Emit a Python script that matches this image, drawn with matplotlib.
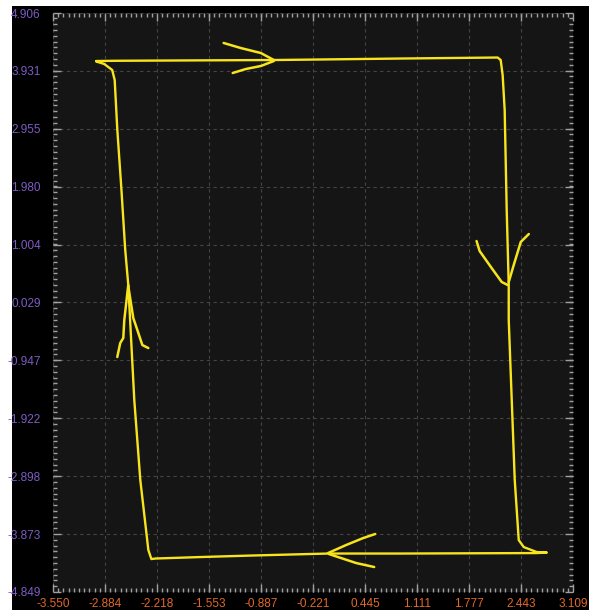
import numpy as np
import matplotlib
matplotlib.use('Agg')
import matplotlib.pyplot as plt
from matplotlib.ticker import FixedLocator, AutoMinorLocator
from matplotlib.patches import Rectangle

plt.rcParams['font.family'] = ['Liberation Sans', 'DejaVu Sans']

# axis ticks
x_ticks = [-3.550, -2.884, -2.218, -1.553, -0.887, -0.221, 0.445, 1.111, 1.777, 2.443, 3.109]
y_ticks = [-4.849, -3.873, -2.898, -1.922, -0.947, 0.029, 1.004, 1.980, 2.955, 3.931, 4.906]

# main loop (top -> right -> bottom -> left)
path_x = [-2.997, -2.753, -0.697, 0.910, 2.144, 2.183,
          2.208, 2.234, 2.260, 2.286, 2.286, 2.363, 2.414, 2.478, 2.645, 2.774,
          2.645, 0.910, -0.028, -1.018, -1.661, -2.239, -2.290,
          -2.329, -2.432, -2.509, -2.586, -2.625, -2.676, -2.727, -2.760, -2.792, -2.894, -2.997]
path_y = [4.097, 4.101, 4.114, 4.139, 4.156, 4.114,
          3.861, 3.272, 1.587, 0.323, -0.267, -2.963, -3.974, -4.092, -4.176, -4.184,
          -4.193, -4.201, -4.201, -4.235, -4.260, -4.285, -4.294,
          -4.142, -2.963, -1.615, 0.323, 0.913, 1.974, 2.951, 3.777, 3.946, 4.047, 4.089]

# arrow heads, two barbs each
top_a_x = [-1.365, -1.146, -0.889, -0.722]
top_a_y = [4.401, 4.316, 4.232, 4.114]
top_b_x = [-1.249, -1.082, -0.889, -0.722]
top_b_y = [3.895, 3.962, 4.013, 4.097]

right_a_x = [1.874, 1.913, 2.067, 2.196, 2.273]
right_a_y = [1.064, 0.896, 0.609, 0.374, 0.323]
right_b_x = [2.543, 2.440, 2.350, 2.286]
right_b_y = [1.182, 1.048, 0.660, 0.374]

bottom_a_x = [0.576, 0.422, 0.203, -0.028]
bottom_a_y = [-3.872, -3.940, -4.058, -4.193]
bottom_b_x = [0.563, 0.332, 0.139, -0.015]
bottom_b_y = [-4.428, -4.361, -4.277, -4.210]

left_a_x = [-2.727, -2.689, -2.650, -2.637, -2.586]
left_a_y = [-0.890, -0.654, -0.570, -0.267, 0.323]
left_b_x = [-2.329, -2.406, -2.470, -2.522, -2.586]
left_b_y = [-0.739, -0.688, -0.435, -0.233, 0.306]

W, H = 589, 610
fig = plt.figure(figsize=(W / 100, H / 100), dpi=100, facecolor='white')
# black panel behind the plot
fig.patches.append(Rectangle((12 / W, 0), 1 - 12 / W, 1 - 6 / H,
                             transform=fig.transFigure, facecolor='black', edgecolor='none', zorder=-10))

ax = fig.add_axes([53 / W, 18 / H, 520 / W, 579 / H])
ax.set_zorder(1)
ax.set_facecolor('#151515')
for s in ax.spines.values():
    s.set_visible(False)

yellow = '#F8E41C'
ax.plot(path_x, path_y, color=yellow, lw=1.7, solid_joinstyle='round', solid_capstyle='round')
for xs, ys in [(top_a_x, top_a_y), (top_b_x, top_b_y), (right_a_x, right_a_y), (right_b_x, right_b_y),
               (bottom_a_x, bottom_a_y), (bottom_b_x, bottom_b_y), (left_a_x, left_a_y), (left_b_x, left_b_y)]:
    ax.plot(xs, ys, color=yellow, lw=1.8, solid_joinstyle='round', solid_capstyle='round')

ax.set_xlim(x_ticks[0], x_ticks[-1])
ax.set_ylim(y_ticks[0], y_ticks[-1])
ax.xaxis.set_major_locator(FixedLocator(x_ticks))
ax.yaxis.set_major_locator(FixedLocator(y_ticks))
ax.set_xticklabels([f'{v:.3f}' for v in x_ticks])
ax.set_yticklabels([f'{v:.3f}' for v in y_ticks])
ax.xaxis.set_minor_locator(AutoMinorLocator(10))
ax.yaxis.set_minor_locator(AutoMinorLocator(10))

ax.grid(True, which='major', color='#444444', lw=0.8, ls=(0, (3, 3)))
ax.tick_params(which='both', direction='in', top=True, right=True, color='#a0a0a0')
ax.tick_params(which='major', length=6, width=1)
ax.tick_params(which='minor', length=3, width=1)
ax.tick_params(axis='x', which='major', labelcolor='#E2692A', labelsize=8.5, pad=4)
ax.tick_params(axis='y', which='major', labelcolor='#7E5CC4', labelsize=8.5, pad=9)

fig.savefig('out.png', dpi=100, facecolor=fig.get_facecolor())
